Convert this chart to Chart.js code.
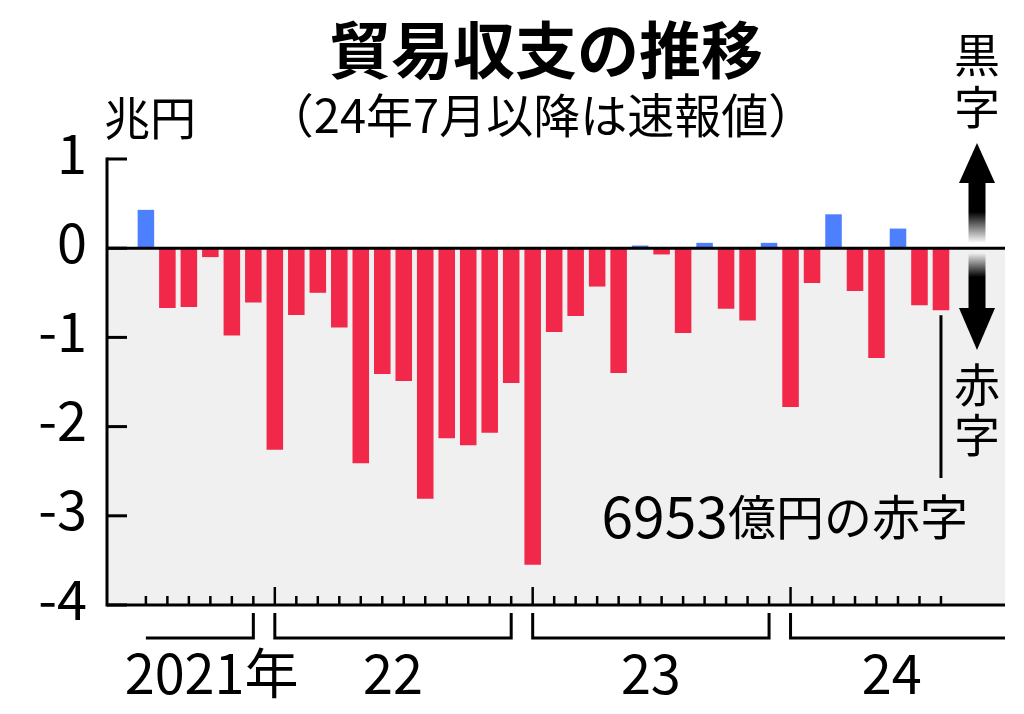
<!DOCTYPE html>
<html>
<head>
<meta charset="utf-8">
<script src="https://cdn.jsdelivr.net/npm/chart.js@4.4.0/dist/chart.umd.min.js"></script>
<style>
  html, body { margin: 0; padding: 0; background: #fff; }
  canvas { display: block; }
</style>
</head>
<body>
<canvas id="myChart" width="1024" height="714"></canvas>
<script>
const monthLabels = [
  "2021/7", "2021/8", "2021/9", "2021/10", "2021/11", "2021/12",
  "2022/1", "2022/2", "2022/3", "2022/4", "2022/5", "2022/6",
  "2022/7", "2022/8", "2022/9", "2022/10", "2022/11", "2022/12",
  "2023/1", "2023/2", "2023/3", "2023/4", "2023/5", "2023/6",
  "2023/7", "2023/8", "2023/9", "2023/10", "2023/11", "2023/12",
  "2024/1", "2024/2", "2024/3", "2024/4", "2024/5", "2024/6",
  "2024/7", "2024/8"
];
// 兆円
const balance = [
  0.43, -0.67, -0.66, -0.10, -0.98, -0.61,
  -2.26, -0.75, -0.50, -0.89, -2.41, -1.41,
  -1.49, -2.81, -2.13, -2.21, -2.07, -1.51,
  -3.55, -0.94, -0.76, -0.43, -1.40, 0.03,
  -0.07, -0.95, 0.06, -0.68, -0.81, 0.06,
  -1.78, -0.39, 0.38, -0.48, -1.23, 0.22,
  -0.64, -0.6953
];
const yearLabels = ["2021年", "22", "23", "24"];
const yTicks = [1, 0, -1, -2, -3, -4];

const FONT = '"Noto Sans CJK JP", "Noto Sans", sans-serif';
const RED = "#f2284b";
const BLUE = "#4d80ff";

// group month indexes by year
const years = [];
monthLabels.forEach((m, i) => {
  const y = m.split("/")[0];
  if (!years.length || years[years.length - 1].year !== y) years.push({ year: y, first: i, last: i });
  else years[years.length - 1].last = i;
});

function line(ctx, x1, y1, x2, y2) {
  ctx.beginPath();
  ctx.moveTo(x1, y1);
  ctx.lineTo(x2, y2);
  ctx.stroke();
}

const decor = {
  id: "decor",
  beforeDatasetsDraw(chart) {
    const { ctx, chartArea: a, scales: { y } } = chart;
    const y0 = y.getPixelForValue(0);
    ctx.save();
    ctx.fillStyle = "#f0f0f0";
    ctx.fillRect(a.left, y0, a.right - a.left, a.bottom - y0);
    ctx.restore();
  },
  afterDraw(chart) {
    const { ctx, chartArea: a, scales: { x, y } } = chart;
    const y0 = y.getPixelForValue(0);
    ctx.save();
    ctx.strokeStyle = "#000";
    ctx.fillStyle = "#000";
    ctx.lineCap = "butt";

    // axes
    ctx.lineWidth = 3;
    line(ctx, a.left, y.getPixelForValue(1) - 1.5, a.left, a.bottom + 1.5);
    line(ctx, a.left, y0, a.right, y0);
    line(ctx, a.left, a.bottom, a.right, a.bottom);
    yTicks.forEach(v => {
      const py = y.getPixelForValue(v);
      line(ctx, a.left, py, a.left + 20, py);
    });

    // month ticks, pointing up
    ctx.lineWidth = 2.5;
    monthLabels.forEach((m, i) => {
      const px = x.getPixelForValue(i);
      const len = m.endsWith("/1") ? 18 : 9;
      line(ctx, px, a.bottom, px, a.bottom - len);
    });

    // year brackets
    ctx.lineWidth = 3;
    const by = a.bottom + 33, top = a.bottom + 8;
    const nudge = [12, 0, 0, -6];
    ctx.font = "54px " + FONT;
    ctx.textAlign = "center";
    ctx.textBaseline = "middle";
    years.forEach((yr, k) => {
      const isFirst = k === 0, isLast = k === years.length - 1;
      const x1 = x.getPixelForValue(yr.first);
      const x2 = isLast ? a.right : x.getPixelForValue(yr.last);
      ctx.beginPath();
      if (!isFirst) { ctx.moveTo(x1, top); ctx.lineTo(x1, by); } else ctx.moveTo(x1, by);
      ctx.lineTo(x2, by);
      if (!isLast) ctx.lineTo(x2, top);
      ctx.stroke();
      ctx.fillText(yearLabels[k], (x1 + x2) / 2 + nudge[k], a.bottom + 68);
    });

    // leader line and note for the latest month
    const li = balance.length - 1;
    const lx = x.getPixelForValue(li);
    ctx.lineWidth = 3;
    line(ctx, lx, y.getPixelForValue(balance[li]) + 5, lx, 478);
    ctx.textAlign = "right";
    ctx.font = "48px " + FONT;
    const tail = "億円の赤字";
    ctx.fillText(tail, 968, 517);
    const tailW = ctx.measureText(tail).width;
    ctx.font = "57px " + FONT;
    ctx.fillText(String(Math.round(-balance[li] * 10000)), 968 - tailW, 516);

    // title
    ctx.textAlign = "center";
    ctx.font = "bold 62px " + FONT;
    ctx.fillText("貿易収支の推移", 546, 50);
    ctx.font = "47px " + FONT;
    ctx.fillText("（24年7月以降は速報値）", 541, 115);

    // unit
    ctx.textAlign = "left";
    ctx.font = "46px " + FONT;
    ctx.fillText("兆円", 104, 118);

    // surplus / deficit arrows
    const cx = a.right - 28;
    ctx.textAlign = "center";
    ctx.font = "46px " + FONT;
    ctx.fillText("黒", cx, 55);
    ctx.fillText("字", cx, 107);
    ctx.fillText("赤", cx, 385);
    ctx.fillText("字", cx, 435);

    ctx.beginPath();
    ctx.moveTo(cx, 143); ctx.lineTo(cx + 18, 183); ctx.lineTo(cx - 18, 183); ctx.closePath();
    ctx.fill();
    let g = ctx.createLinearGradient(0, 212, 0, 243);
    g.addColorStop(0, "rgba(0,0,0,1)");
    g.addColorStop(1, "rgba(0,0,0,0)");
    ctx.fillStyle = g;
    ctx.fillRect(cx - 8.5, 182, 17, 61);

    g = ctx.createLinearGradient(0, 253, 0, 277);
    g.addColorStop(0, "rgba(0,0,0,0)");
    g.addColorStop(1, "rgba(0,0,0,1)");
    ctx.fillStyle = g;
    ctx.fillRect(cx - 8.5, 253, 17, 56);
    ctx.fillStyle = "#000";
    ctx.beginPath();
    ctx.moveTo(cx - 18, 308); ctx.lineTo(cx + 18, 308); ctx.lineTo(cx, 350); ctx.closePath();
    ctx.fill();

    ctx.restore();
  }
};

new Chart(document.getElementById("myChart"), {
  type: "bar",
  data: {
    datasets: [{
      label: "貿易収支",
      data: balance.map((v, i) => ({ x: i, y: v })),
      backgroundColor: c => (c.parsed && c.parsed.y >= 0 ? BLUE : RED),
      borderWidth: 0,
      barPercentage: 0.77,
      categoryPercentage: 1
    }]
  },
  options: {
    responsive: false,
    devicePixelRatio: 1,
    animation: false,
    layout: { padding: { top: 159, right: 19, bottom: 109, left: 0 } },
    plugins: {
      legend: { display: false },
      tooltip: { enabled: false }
    },
    scales: {
      x: { type: "linear", min: -1.81, max: 39.98, offset: false, display: false },
      y: {
        min: -4,
        max: 1,
        afterBuildTicks: s => { s.ticks = yTicks.map(v => ({ value: v })); },
        afterFit: s => { s.width = 107; },
        grid: { display: false },
        border: { display: false },
        ticks: {
          color: "#000",
          font: { family: FONT, size: 54 },
          padding: 12,
          labelOffset: -6,
          callback: v => String(v)
        }
      }
    }
  },
  plugins: [decor]
});
</script>
</body>
</html>
